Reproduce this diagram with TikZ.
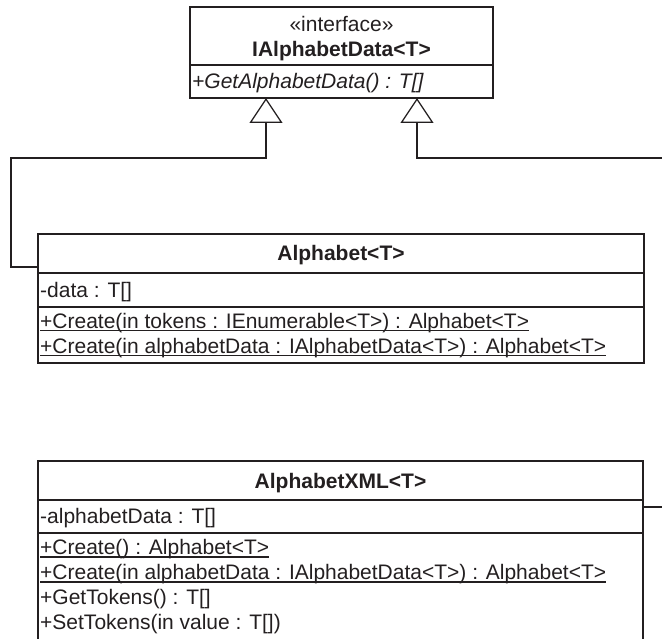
\documentclass[tikz,border=0pt]{standalone}
\usepackage{fontspec}
\setmainfont{Liberation Sans}
\usetikzlibrary{arrows.meta}
\definecolor{ink}{HTML}{231F20}
\newcommand\umline[1]{\setbox0\hbox{#1}\rlap{\rule[-3pt]{\wd0}{1.2pt}}\box0}
\begin{document}
\begin{tikzpicture}[x=1pt,y=-1pt,
  box/.style={draw=ink, line width=2pt, inner sep=0pt, outer sep=0pt, anchor=north west},
  sep/.style={draw=ink, line width=2pt},
  txt/.style={inner sep=0pt, anchor=base west, font=\fontsize{21}{25}\selectfont, text=ink},
  ctxt/.style={inner sep=0pt, anchor=base, font=\fontsize{21}{25}\selectfont, text=ink},
  conn/.style={draw=ink, line width=1.3pt},
  inh/.style={-{Triangle[open, length=25pt, width=33pt, line width=1.3pt]}}]
\useasboundingbox (0,0) rectangle (662,639);
\clip (0,0) rectangle (662,639);
% interface
\node[box, minimum width=303pt, minimum height=91pt] (iface) at (190,7) {};
\draw[sep] (iface.west |- 0,65) -- (iface.east |- 0,65);
\node[ctxt] (ister) at (341.5,32) {«interface»};
\node[ctxt, font=\fontsize{21}{25}\selectfont\bfseries] (iname) at (341.5,57) {IAlphabetData<T>};
\node[txt, font=\fontsize{21}{25}\selectfont\itshape] (iop) at (192,89) {+GetAlphabetData() : T[]};
% Alphabet
\node[box, minimum width=606pt, minimum height=129pt] (alph) at (38,234) {};
\draw[sep] (alph.west |- 0,273) -- (alph.east |- 0,273);
\draw[sep] (alph.west |- 0,307) -- (alph.east |- 0,307);
\node[ctxt, font=\fontsize{21}{25}\selectfont\bfseries] (aname) at (341,261) {Alphabet<T>};
\node[txt] (aattr) at (40,297.5) {-data : T[]};
\node[txt] (aop1) at (40,328.5) {\umline{+Create(in tokens : IEnumerable<T>) : Alphabet<T>}};
\node[txt] (aop2) at (40,353.5) {\umline{+Create(in alphabetData : IAlphabetData<T>) : Alphabet<T>}};
% AlphabetXML
\node[box, minimum width=605pt, minimum height=220pt] (xml) at (38,461) {};
\draw[sep] (xml.west |- 0,500) -- (xml.east |- 0,500);
\draw[sep] (xml.west |- 0,533) -- (xml.east |- 0,533);
\node[ctxt, font=\fontsize{21}{25}\selectfont\bfseries] (xname) at (340.5,488) {AlphabetXML<T>};
\node[txt] (xattr) at (40,523.5) {-alphabetData : T[]};
\node[txt] (xop1) at (40,554.5) {\umline{+Create() : Alphabet<T>}};
\node[txt] (xop2) at (40,579.5) {\umline{+Create(in alphabetData : IAlphabetData<T>) : Alphabet<T>}};
\node[txt] (xop3) at (40,604.5) {+GetTokens() : T[]};
\node[txt] (xop4) at (40,629.5) {+SetTokens(in value : T[])};
% connectors
\coordinate (bendL1) at (11,267);
\coordinate (bendL2) at (11,158);
\coordinate (bendL3) at (266,158);
\coordinate (edgeR1) at (662,158);
\coordinate (bendR1) at (417,158);
\coordinate (edgeR2) at (662,507);
\draw[conn,inh] (alph.west |- bendL1) -- (bendL1) -- (bendL2) -- (bendL3) -- (iface.south -| bendL3);
\draw[conn,inh] (edgeR1) -- (bendR1) -- (iface.south -| bendR1);
\draw[conn] (xml.east |- edgeR2) -- (edgeR2);
\end{tikzpicture}
\end{document}
